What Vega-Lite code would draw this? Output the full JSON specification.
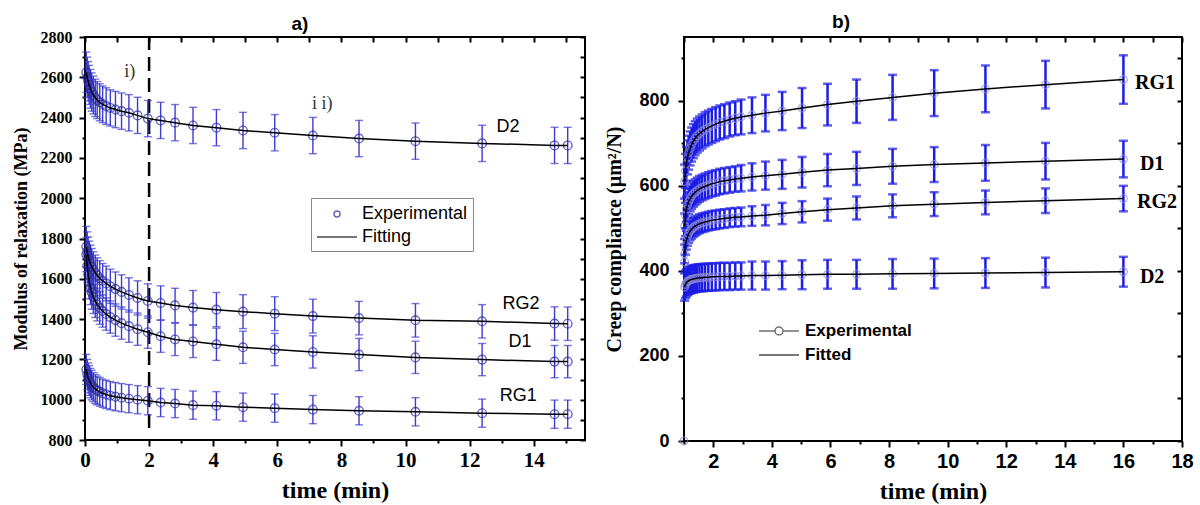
{
"$schema":"https://vega.github.io/schema/vega-lite/v6.json",
"background":"white",
"padding":{"left":11,"top":12,"right":5,"bottom":0},
"spacing":16,
"datasets":{
"a":[
{"s":"D2","t":0.04,"v":2625,"e":100},{"s":"D2","t":0.07,"v":2600,"e":100},{"s":"D2","t":0.1,"v":2580,"e":98},{"s":"D2","t":0.13,"v":2562,"e":97},{"s":"D2","t":0.17,"v":2543,"e":96},{"s":"D2","t":0.21,"v":2527,"e":95},{"s":"D2","t":0.26,"v":2512,"e":94},{"s":"D2","t":0.32,"v":2498,"e":93},{"s":"D2","t":0.38,"v":2487,"e":92},{"s":"D2","t":0.46,"v":2476,"e":92},{"s":"D2","t":0.55,"v":2466,"e":91},{"s":"D2","t":0.66,"v":2457,"e":91},{"s":"D2","t":0.79,"v":2448,"e":90},{"s":"D2","t":0.95,"v":2440,"e":90},{"s":"D2","t":1.14,"v":2432,"e":90},{"s":"D2","t":1.37,"v":2424,"e":90},{"s":"D2","t":1.64,"v":2411,"e":90},{"s":"D2","t":1.96,"v":2395,"e":90},{"s":"D2","t":2.36,"v":2386,"e":90},{"s":"D2","t":2.81,"v":2375,"e":90},{"s":"D2","t":3.37,"v":2361,"e":90},{"s":"D2","t":4.1,"v":2350,"e":90},{"s":"D2","t":4.93,"v":2336,"e":90},{"s":"D2","t":5.92,"v":2325,"e":90},{"s":"D2","t":7.11,"v":2311,"e":90},{"s":"D2","t":8.55,"v":2296,"e":90},{"s":"D2","t":10.31,"v":2283,"e":90},{"s":"D2","t":12.39,"v":2272,"e":90},{"s":"D2","t":14.65,"v":2262,"e":90},{"s":"D2","t":15.06,"v":2262,"e":90},
{"s":"RG2","t":0.04,"v":1760,"e":100},{"s":"RG2","t":0.07,"v":1735,"e":98},{"s":"RG2","t":0.1,"v":1712,"e":96},{"s":"RG2","t":0.13,"v":1693,"e":94},{"s":"RG2","t":0.17,"v":1675,"e":92},{"s":"RG2","t":0.21,"v":1660,"e":90},{"s":"RG2","t":0.26,"v":1645,"e":89},{"s":"RG2","t":0.32,"v":1630,"e":88},{"s":"RG2","t":0.38,"v":1617,"e":87},{"s":"RG2","t":0.46,"v":1603,"e":87},{"s":"RG2","t":0.55,"v":1590,"e":86},{"s":"RG2","t":0.66,"v":1577,"e":86},{"s":"RG2","t":0.79,"v":1563,"e":85},{"s":"RG2","t":0.95,"v":1549,"e":85},{"s":"RG2","t":1.14,"v":1535,"e":85},{"s":"RG2","t":1.37,"v":1520,"e":85},{"s":"RG2","t":1.64,"v":1505,"e":85},{"s":"RG2","t":1.96,"v":1490,"e":85},{"s":"RG2","t":2.36,"v":1480,"e":85},{"s":"RG2","t":2.81,"v":1468,"e":85},{"s":"RG2","t":3.37,"v":1457,"e":85},{"s":"RG2","t":4.1,"v":1447,"e":85},{"s":"RG2","t":4.93,"v":1437,"e":84},{"s":"RG2","t":5.92,"v":1427,"e":84},{"s":"RG2","t":7.11,"v":1415,"e":84},{"s":"RG2","t":8.55,"v":1405,"e":83},{"s":"RG2","t":10.31,"v":1394,"e":83},{"s":"RG2","t":12.39,"v":1389,"e":83},{"s":"RG2","t":14.65,"v":1378,"e":83},{"s":"RG2","t":15.06,"v":1377,"e":83},
{"s":"D1","t":0.04,"v":1720,"e":85},{"s":"D1","t":0.07,"v":1665,"e":85},{"s":"D1","t":0.1,"v":1620,"e":84},{"s":"D1","t":0.13,"v":1585,"e":84},{"s":"D1","t":0.17,"v":1555,"e":83},{"s":"D1","t":0.21,"v":1532,"e":83},{"s":"D1","t":0.26,"v":1510,"e":82},{"s":"D1","t":0.32,"v":1490,"e":82},{"s":"D1","t":0.38,"v":1472,"e":81},{"s":"D1","t":0.46,"v":1455,"e":81},{"s":"D1","t":0.55,"v":1440,"e":80},{"s":"D1","t":0.66,"v":1425,"e":80},{"s":"D1","t":0.79,"v":1410,"e":80},{"s":"D1","t":0.95,"v":1395,"e":80},{"s":"D1","t":1.14,"v":1380,"e":80},{"s":"D1","t":1.37,"v":1365,"e":80},{"s":"D1","t":1.64,"v":1350,"e":80},{"s":"D1","t":1.96,"v":1335,"e":80},{"s":"D1","t":2.36,"v":1315,"e":80},{"s":"D1","t":2.81,"v":1299,"e":80},{"s":"D1","t":3.37,"v":1289,"e":80},{"s":"D1","t":4.1,"v":1275,"e":80},{"s":"D1","t":4.93,"v":1260,"e":80},{"s":"D1","t":5.92,"v":1249,"e":80},{"s":"D1","t":7.11,"v":1237,"e":80},{"s":"D1","t":8.55,"v":1224,"e":80},{"s":"D1","t":10.31,"v":1210,"e":80},{"s":"D1","t":12.39,"v":1199,"e":80},{"s":"D1","t":14.65,"v":1189,"e":80},{"s":"D1","t":15.06,"v":1189,"e":80},
{"s":"RG1","t":0.04,"v":1150,"e":75},{"s":"RG1","t":0.07,"v":1125,"e":75},{"s":"RG1","t":0.1,"v":1108,"e":74},{"s":"RG1","t":0.13,"v":1095,"e":74},{"s":"RG1","t":0.17,"v":1082,"e":73},{"s":"RG1","t":0.21,"v":1072,"e":73},{"s":"RG1","t":0.26,"v":1062,"e":72},{"s":"RG1","t":0.32,"v":1053,"e":72},{"s":"RG1","t":0.38,"v":1046,"e":71},{"s":"RG1","t":0.46,"v":1039,"e":71},{"s":"RG1","t":0.55,"v":1032,"e":70},{"s":"RG1","t":0.66,"v":1026,"e":70},{"s":"RG1","t":0.79,"v":1020,"e":70},{"s":"RG1","t":0.95,"v":1015,"e":70},{"s":"RG1","t":1.14,"v":1010,"e":70},{"s":"RG1","t":1.37,"v":1005,"e":70},{"s":"RG1","t":1.64,"v":1000,"e":70},{"s":"RG1","t":1.96,"v":995,"e":70},{"s":"RG1","t":2.36,"v":986,"e":70},{"s":"RG1","t":2.81,"v":981,"e":70},{"s":"RG1","t":3.37,"v":973,"e":70},{"s":"RG1","t":4.1,"v":970,"e":70},{"s":"RG1","t":4.93,"v":963,"e":70},{"s":"RG1","t":5.92,"v":958,"e":70},{"s":"RG1","t":7.11,"v":951,"e":70},{"s":"RG1","t":8.55,"v":945,"e":70},{"s":"RG1","t":10.31,"v":940,"e":70},{"s":"RG1","t":12.39,"v":933,"e":70},{"s":"RG1","t":14.65,"v":928,"e":70},{"s":"RG1","t":15.06,"v":928,"e":70}
],
"b":[
{"s":"RG1","t":1.02,"v":610,"e":40},{"s":"RG1","t":1.05,"v":635,"e":40},{"s":"RG1","t":1.08,"v":652,"e":40},{"s":"RG1","t":1.12,"v":667,"e":40},{"s":"RG1","t":1.16,"v":678,"e":40},{"s":"RG1","t":1.21,"v":688,"e":40},{"s":"RG1","t":1.26,"v":697,"e":40},{"s":"RG1","t":1.32,"v":705,"e":40},{"s":"RG1","t":1.38,"v":712,"e":40},{"s":"RG1","t":1.45,"v":718,"e":40},{"s":"RG1","t":1.53,"v":723,"e":40},{"s":"RG1","t":1.62,"v":728,"e":40},{"s":"RG1","t":1.72,"v":733,"e":40},{"s":"RG1","t":1.83,"v":737,"e":40},{"s":"RG1","t":1.95,"v":741,"e":40},{"s":"RG1","t":2.08,"v":745,"e":40},{"s":"RG1","t":2.22,"v":749,"e":40},{"s":"RG1","t":2.38,"v":752,"e":40},{"s":"RG1","t":2.56,"v":756,"e":40},{"s":"RG1","t":2.75,"v":759,"e":40},{"s":"RG1","t":2.95,"v":762,"e":41},{"s":"RG1","t":3.32,"v":766,"e":42},{"s":"RG1","t":3.78,"v":771,"e":43},{"s":"RG1","t":4.35,"v":776,"e":45},{"s":"RG1","t":5.03,"v":783,"e":47},{"s":"RG1","t":5.9,"v":791,"e":49},{"s":"RG1","t":6.89,"v":799,"e":51},{"s":"RG1","t":8.12,"v":808,"e":53},{"s":"RG1","t":9.54,"v":818,"e":54},{"s":"RG1","t":11.29,"v":828,"e":55},{"s":"RG1","t":13.34,"v":838,"e":56},{"s":"RG1","t":16.0,"v":850,"e":57},
{"s":"D1","t":1.02,"v":505,"e":30},{"s":"D1","t":1.05,"v":530,"e":30},{"s":"D1","t":1.08,"v":545,"e":30},{"s":"D1","t":1.12,"v":555,"e":30},{"s":"D1","t":1.16,"v":563,"e":30},{"s":"D1","t":1.21,"v":570,"e":30},{"s":"D1","t":1.26,"v":576,"e":30},{"s":"D1","t":1.32,"v":581,"e":30},{"s":"D1","t":1.38,"v":585,"e":30},{"s":"D1","t":1.45,"v":589,"e":30},{"s":"D1","t":1.53,"v":593,"e":30},{"s":"D1","t":1.62,"v":596,"e":30},{"s":"D1","t":1.72,"v":599,"e":30},{"s":"D1","t":1.83,"v":602,"e":30},{"s":"D1","t":1.95,"v":605,"e":30},{"s":"D1","t":2.08,"v":607,"e":30},{"s":"D1","t":2.22,"v":610,"e":30},{"s":"D1","t":2.38,"v":612,"e":30},{"s":"D1","t":2.56,"v":614,"e":30},{"s":"D1","t":2.75,"v":616,"e":30},{"s":"D1","t":2.95,"v":618,"e":31},{"s":"D1","t":3.32,"v":621,"e":32},{"s":"D1","t":3.78,"v":624,"e":33},{"s":"D1","t":4.35,"v":627,"e":34},{"s":"D1","t":5.03,"v":632,"e":36},{"s":"D1","t":5.9,"v":637,"e":38},{"s":"D1","t":6.89,"v":641,"e":39},{"s":"D1","t":8.12,"v":646,"e":41},{"s":"D1","t":9.54,"v":650,"e":41},{"s":"D1","t":11.29,"v":654,"e":42},{"s":"D1","t":13.34,"v":658,"e":43},{"s":"D1","t":16.0,"v":663,"e":43},
{"s":"RG2","t":1.02,"v":440,"e":22},{"s":"RG2","t":1.05,"v":460,"e":22},{"s":"RG2","t":1.08,"v":472,"e":22},{"s":"RG2","t":1.12,"v":481,"e":22},{"s":"RG2","t":1.16,"v":488,"e":22},{"s":"RG2","t":1.21,"v":494,"e":22},{"s":"RG2","t":1.26,"v":498,"e":22},{"s":"RG2","t":1.32,"v":502,"e":22},{"s":"RG2","t":1.38,"v":505,"e":22},{"s":"RG2","t":1.45,"v":508,"e":22},{"s":"RG2","t":1.53,"v":511,"e":22},{"s":"RG2","t":1.62,"v":513,"e":22},{"s":"RG2","t":1.72,"v":515,"e":22},{"s":"RG2","t":1.83,"v":517,"e":22},{"s":"RG2","t":1.95,"v":519,"e":22},{"s":"RG2","t":2.08,"v":520,"e":22},{"s":"RG2","t":2.22,"v":522,"e":22},{"s":"RG2","t":2.38,"v":523,"e":22},{"s":"RG2","t":2.56,"v":525,"e":22},{"s":"RG2","t":2.75,"v":526,"e":22},{"s":"RG2","t":2.95,"v":527,"e":22},{"s":"RG2","t":3.32,"v":529,"e":23},{"s":"RG2","t":3.78,"v":531,"e":24},{"s":"RG2","t":4.35,"v":535,"e":25},{"s":"RG2","t":5.03,"v":539,"e":25},{"s":"RG2","t":5.9,"v":544,"e":26},{"s":"RG2","t":6.89,"v":548,"e":27},{"s":"RG2","t":8.12,"v":553,"e":27},{"s":"RG2","t":9.54,"v":557,"e":28},{"s":"RG2","t":11.29,"v":561,"e":28},{"s":"RG2","t":13.34,"v":565,"e":29},{"s":"RG2","t":16.0,"v":570,"e":30},
{"s":"D2","t":1.02,"v":362,"e":32},{"s":"D2","t":1.05,"v":368,"e":32},{"s":"D2","t":1.08,"v":372,"e":32},{"s":"D2","t":1.12,"v":375,"e":32},{"s":"D2","t":1.16,"v":377,"e":32},{"s":"D2","t":1.21,"v":379,"e":32},{"s":"D2","t":1.26,"v":380,"e":32},{"s":"D2","t":1.32,"v":381,"e":32},{"s":"D2","t":1.38,"v":382,"e":32},{"s":"D2","t":1.45,"v":383,"e":32},{"s":"D2","t":1.53,"v":384,"e":32},{"s":"D2","t":1.62,"v":384,"e":32},{"s":"D2","t":1.72,"v":385,"e":32},{"s":"D2","t":1.83,"v":385,"e":32},{"s":"D2","t":1.95,"v":386,"e":32},{"s":"D2","t":2.08,"v":386,"e":32},{"s":"D2","t":2.22,"v":387,"e":32},{"s":"D2","t":2.38,"v":387,"e":32},{"s":"D2","t":2.56,"v":387,"e":32},{"s":"D2","t":2.75,"v":388,"e":32},{"s":"D2","t":2.95,"v":388,"e":32},{"s":"D2","t":3.32,"v":389,"e":33},{"s":"D2","t":3.78,"v":389,"e":33},{"s":"D2","t":4.35,"v":390,"e":33},{"s":"D2","t":5.03,"v":391,"e":34},{"s":"D2","t":5.9,"v":392,"e":34},{"s":"D2","t":6.89,"v":392,"e":34},{"s":"D2","t":8.12,"v":393,"e":35},{"s":"D2","t":9.54,"v":394,"e":35},{"s":"D2","t":11.29,"v":395,"e":35},{"s":"D2","t":13.34,"v":396,"e":35},{"s":"D2","t":16.0,"v":398,"e":35}
],
"bx":[{"t":1.0,"v":0},{"t":1.03,"v":421}],
"alab":[{"lab":"D2","t":13.2,"v":2351},{"lab":"RG2","t":13.6,"v":1476},{"lab":"D1","t":13.57,"v":1286},{"lab":"RG1","t":13.52,"v":1019}],
"anno":[{"lab":"i)","t":1.4,"v":2625},{"lab":"i i)","t":7.4,"v":2466}],
"blab":[{"lab":"RG1","t":17.08,"v":841},{"lab":"D1","t":16.98,"v":652},{"lab":"RG2","t":17.15,"v":562},{"lab":"D2","t":16.98,"v":386}]
},
"resolve":{"scale":{"color":"independent","shape":"independent"},"legend":{"color":"independent","shape":"independent"}},
"hconcat":[
{
"width":500,"height":403,
"title":{"text":"a)","font":"Liberation Sans","fontSize":19,"fontWeight":"bold","anchor":"middle","frame":"group","dx":-35,"offset":-5,"color":"black"},
"resolve":{"axis":{"x":"independent","y":"independent"}},
"layer":[
{"data":{"values":[{}]},"mark":{"type":"rule","strokeDash":[14,7],"strokeWidth":2.5,"color":"black"},
"encoding":{"x":{"datum":2,"type":"quantitative","axis":null},"y":{"datum":860,"type":"quantitative","axis":null},"y2":{"datum":2800}}},
{"data":{"name":"a"},"mark":{"type":"errorbar","ticks":true,"size":8,"thickness":1.4,"color":"#3c3cd2"},
"encoding":{
"x":{"field":"t","type":"quantitative","scale":{"domain":[0,15.6],"nice":false,"zero":false},
"axis":{"orient":"bottom","values":[0,1,2,3,4,5,6,7,8,9,10,11,12,13,14,15],"labelExpr":"datum.value % 2 === 0 ? datum.label : ''","tickSize":{"condition":{"test":"datum.value % 2 === 0","value":6},"value":3},"title":"time (min)","titleFont":"Liberation Serif","titleFontSize":24,"labelFont":"Liberation Serif","labelFontSize":21,"labelPadding":3,"titlePadding":8}},
"y":{"field":"v","type":"quantitative","scale":{"domain":[800,2800],"nice":false,"zero":false},
"axis":{"orient":"left","values":[800,900,1000,1100,1200,1300,1400,1500,1600,1700,1800,1900,2000,2100,2200,2300,2400,2500,2600,2700,2800],"format":"d","labelExpr":"datum.value % 200 === 0 ? datum.label : ''","tickSize":{"condition":{"test":"datum.value % 200 === 0","value":6},"value":3},"title":"Modulus of relaxation (MPa)","titleFont":"Liberation Serif","titleFontSize":18,"labelFont":"Liberation Serif","labelFontSize":16,"labelPadding":7,"titlePadding":10}},
"yError":{"field":"e"}}},
{"data":{"name":"a"},"mark":{"type":"point","filled":false,"size":75,"strokeWidth":1.4,"color":"#2a2aa0"},
"encoding":{"x":{"field":"t","type":"quantitative","axis":null},"y":{"field":"v","type":"quantitative","axis":null}}},
{"data":{"name":"a"},"mark":{"type":"line","strokeWidth":1.5,"color":"black"},
"encoding":{
"x":{"field":"t","type":"quantitative","axis":{"orient":"top","values":[0,1,2,3,4,5,6,7,8,9,10,11,12,13,14,15],"labels":false,"title":null,"offset":-5,"tickSize":5}},
"y":{"field":"v","type":"quantitative","axis":{"orient":"right","values":[800,900,1000,1100,1200,1300,1400,1500,1600,1700,1800,1900,2000,2100,2200,2300,2400,2500,2600,2700,2800],"labels":false,"title":null,"offset":-5,"tickSize":5}},
"detail":{"field":"s"}}},
{"data":{"name":"alab"},"mark":{"type":"text","font":"Liberation Sans","fontSize":18,"color":"black"},
"encoding":{"x":{"field":"t","type":"quantitative","axis":null},"y":{"field":"v","type":"quantitative","axis":null},"text":{"field":"lab"}}},
{"data":{"name":"anno"},"mark":{"type":"text","font":"Liberation Serif","fontSize":18,"color":"#333333"},
"encoding":{"x":{"field":"t","type":"quantitative","axis":null},"y":{"field":"v","type":"quantitative","axis":null},"text":{"field":"lab"}}},
{"data":{"values":[]},"mark":{"type":"point","filled":false},
"encoding":{
"shape":{"field":"k","type":"nominal","scale":{"domain":["Experimental","Fitting"],"range":["M1.3,0A0.3,0.3,0,1,1,0.7,0A0.3,0.3,0,1,1,1.3,0","M-1,0H3"]},
"legend":{"orient":"none","legendX":226,"legendY":161,"title":null,"strokeColor":"#888888","padding":5,"labelFont":"Liberation Sans","labelFontSize":18,"labelFontWeight":"normal","labelColor":"black","symbolSize":400,"symbolStrokeWidth":1.5,"rowPadding":3,"labelOffset":24}},
"color":{"field":"k","type":"nominal","scale":{"domain":["Experimental","Fitting"],"range":["#2a2aa0","#000000"]},
"legend":{"orient":"none","legendX":226,"legendY":161,"title":null,"strokeColor":"#888888","padding":5,"labelFont":"Liberation Sans","labelFontSize":18,"labelFontWeight":"normal","labelColor":"black","symbolSize":400,"symbolStrokeWidth":1.5,"rowPadding":3,"labelOffset":24}}}}
]
},
{
"width":498,"height":404,
"title":{"text":"b)","font":"Liberation Sans","fontSize":19,"fontWeight":"bold","anchor":"middle","frame":"group","dx":-92,"offset":4,"color":"black"},
"resolve":{"axis":{"x":"independent","y":"independent"}},
"layer":[
{"data":{"name":"b"},"mark":{"type":"errorbar","ticks":true,"size":9,"thickness":2.5,"color":"#1c1ce6"},
"encoding":{
"x":{"field":"t","type":"quantitative","scale":{"domain":[1,18],"nice":false,"zero":false},
"axis":{"orient":"bottom","values":[1,2,3,4,5,6,7,8,9,10,11,12,13,14,15,16,17,18],"labelExpr":"datum.value % 2 === 0 ? datum.label : ''","tickSize":{"condition":{"test":"datum.value % 2 === 0","value":6},"value":3},"title":"time (min)","titleFont":"Liberation Serif","titleFontSize":24,"labelFont":"Liberation Sans","labelFontSize":20,"labelPadding":4,"titlePadding":8}},
"y":{"field":"v","type":"quantitative","scale":{"domain":[0,950],"nice":false,"zero":false},
"axis":{"orient":"left","values":[0,100,200,300,400,500,600,700,800,900],"format":"d","labelExpr":"datum.value % 200 === 0 ? datum.label : ''","tickSize":{"condition":{"test":"datum.value % 200 === 0","value":6},"value":3},"title":"Creep compliance (µm²/N)","titleFont":"Liberation Serif","titleFontSize":20,"labelFont":"Liberation Sans","labelFontSize":18,"labelPadding":9,"titlePadding":14}},
"yError":{"field":"e"}}},
{"data":{"name":"b"},"mark":{"type":"point","filled":false,"size":60,"strokeWidth":1.2,"color":"#8c8cd0"},
"encoding":{"x":{"field":"t","type":"quantitative","axis":null},"y":{"field":"v","type":"quantitative","axis":null}}},
{"data":{"name":"b"},"mark":{"type":"line","strokeWidth":1.5,"color":"black"},
"encoding":{
"x":{"field":"t","type":"quantitative","axis":{"orient":"top","values":[1,2,3,4,5,6,7,8,9,10,11,12,13,14,15,16,17,18],"labels":false,"title":null,"offset":-5,"tickSize":5}},
"y":{"field":"v","type":"quantitative","axis":{"orient":"right","values":[0,100,200,300,400,500,600,700,800,900],"labels":false,"title":null,"offset":-5,"tickSize":5}},
"detail":{"field":"s"}}},
{"data":{"name":"bx"},"mark":{"type":"point","filled":false,"size":60,"strokeWidth":1.2,"color":"#8c8cd0"},
"encoding":{"x":{"field":"t","type":"quantitative","axis":null},"y":{"field":"v","type":"quantitative","axis":null}}},
{"data":{"name":"blab"},"mark":{"type":"text","font":"Liberation Serif","fontSize":20,"fontWeight":"bold","color":"black"},
"encoding":{"x":{"field":"t","type":"quantitative","axis":null},"y":{"field":"v","type":"quantitative","axis":null},"text":{"field":"lab"}}},
{"data":{"values":[]},"mark":{"type":"point","filled":false},
"encoding":{
"shape":{"field":"k","type":"nominal","scale":{"domain":["Experimental","Fitted"],"range":["M-1,0H0.6M1.4,0H3M1.4,0A0.4,0.4,0,1,1,0.6,0A0.4,0.4,0,1,1,1.4,0","M-1,0H3"]},
"legend":{"orient":"none","legendX":74,"legendY":283,"title":null,"padding":0,"labelFont":"Liberation Sans","labelFontSize":17,"labelFontWeight":"bold","labelColor":"black","symbolSize":400,"symbolStrokeWidth":1.5,"rowPadding":5,"labelOffset":25}},
"color":{"field":"k","type":"nominal","scale":{"domain":["Experimental","Fitted"],"range":["#333333","#000000"]},
"legend":{"orient":"none","legendX":74,"legendY":283,"title":null,"padding":0,"labelFont":"Liberation Sans","labelFontSize":17,"labelFontWeight":"bold","labelColor":"black","symbolSize":400,"symbolStrokeWidth":1.5,"rowPadding":5,"labelOffset":25}}}}
]
}
],
"config":{
"view":{"stroke":"black","strokeWidth":2},
"axis":{"domain":false,"grid":false,"tickColor":"black","tickWidth":2,"labelColor":"black","titleColor":"black","labelFontWeight":"bold","titleFontWeight":"bold","labelOverlap":false,"labelFlush":false,"labelBound":false}
}
}
